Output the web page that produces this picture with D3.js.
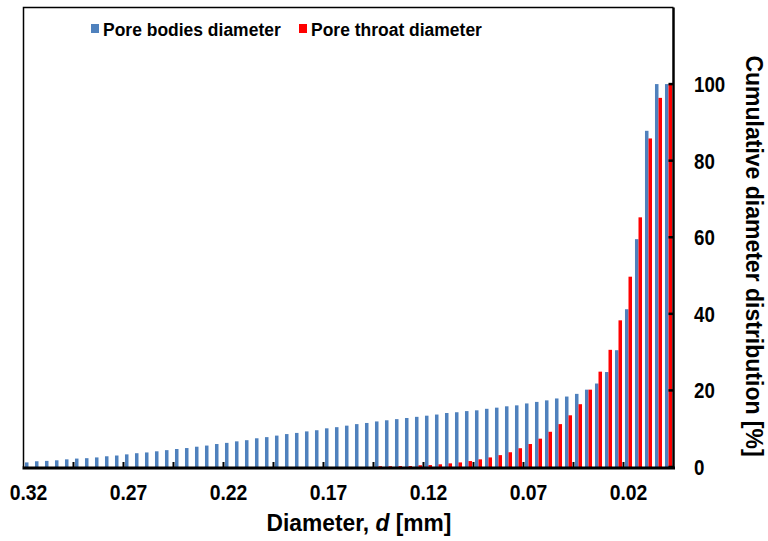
<!DOCTYPE html>
<html>
<head>
<meta charset="utf-8">
<script src="https://cdn.jsdelivr.net/npm/d3@7"></script>
<style>
  html, body { margin: 0; padding: 0; background: #fff; }
  text { font-family: "Liberation Sans", Arial, sans-serif; font-weight: bold; fill: #000; }
</style>
</head>
<body>
<svg id="chart" width="768" height="541"></svg>
<script>
const categories = ["0.320","0.315","0.310","0.305","0.300","0.295","0.290","0.285","0.280","0.275",
  "0.270","0.265","0.260","0.255","0.250","0.245","0.240","0.235","0.230","0.225",
  "0.220","0.215","0.210","0.205","0.200","0.195","0.190","0.185","0.180","0.175",
  "0.170","0.165","0.160","0.155","0.150","0.145","0.140","0.135","0.130","0.125",
  "0.120","0.115","0.110","0.105","0.100","0.095","0.090","0.085","0.080","0.075",
  "0.070","0.065","0.060","0.055","0.050","0.045","0.040","0.035","0.030","0.025",
  "0.020","0.015","0.010","0.005","0.000"];
const tickLabels = ["0.32","0.27","0.22","0.17","0.12","0.07","0.02"];
const tickCategories = ["0.320","0.270","0.220","0.170","0.120","0.070","0.020"];
const poreBodies = [1.2,1.5,1.6,1.75,2.0,2.2,2.3,2.5,2.8,3.0,
  3.3,3.6,3.8,4.1,4.4,4.7,4.95,5.3,5.6,6.0,
  6.3,6.7,7.0,7.5,7.8,8.2,8.6,8.9,9.3,9.6,
  10.1,10.4,10.8,11.2,11.5,11.9,12.2,12.5,12.8,13.1,
  13.4,13.7,14.1,14.3,14.6,14.8,15.2,15.5,15.85,16.1,
  16.6,17.0,17.4,17.9,18.4,19.1,20.2,21.8,24.8,30.5,
  41.2,59.5,87.8,100,100];
const poreThroat = [0,0,0,0,0,0,0,0,0,0,
  0,0,0,0,0,0,0,0,0,0,
  0,0,0,0,0,0,0,0,0,0,
  0,0,0,0,0,0.2,0.2,0.25,0.25,0.45,
  0.5,0.7,0.95,1.2,1.55,2.0,2.5,3.1,3.85,4.9,
  6.0,7.4,9.2,11.2,13.5,16.4,20.2,24.9,30.6,38.3,
  49.7,65.2,85.8,96.4,100];
const seriesNames = ["Pore bodies diameter","Pore throat diameter"];
const seriesColors = ["#4F81BD","#FF0000"];
const yTicks = [0,20,40,60,80,100];

const svg = d3.select("#chart");
const pL = 23.5, pR = 673.5, pT = 7.5, pB = 467;

const x = d3.scaleBand().domain(categories).range([pL, pR]).padding(0);
const x1 = d3.scaleBand().domain([0,1]).range([0, x.bandwidth()]).paddingInner(0).paddingOuter(0.42);
const y = d3.scaleLinear().domain([0,120]).range([pB, pT]);

// plot area frame (top & left)
svg.append("path")
  .attr("d", `M${pL},${pB} V${pT} H${pR}`)
  .attr("fill","none").attr("stroke","#000").attr("stroke-width",1.5);

// bars
const data = categories.map((c,i)=>({c, v:[poreBodies[i], poreThroat[i]]}));
const g = svg.append("g");
data.forEach(d=>{
  d.v.forEach((val,s)=>{
    if (val <= 0) return;
    g.append("rect")
      .attr("x", x(d.c) + x1(s))
      .attr("y", y(val))
      .attr("width", x1.bandwidth())
      .attr("height", pB - y(val))
      .attr("fill", seriesColors[s]);
  });
});

// x-axis line and inward ticks between categories every 5
svg.append("line").attr("x1",pL-1).attr("x2",pR+1.5).attr("y1",pB+1).attr("y2",pB+1)
  .attr("stroke","#000").attr("stroke-width",3);
const tickIdx = d3.range(5, categories.length, 5);
svg.append("g").selectAll("line").data(tickIdx).join("line")
  .attr("x1", i=>x(categories[i])).attr("x2", i=>x(categories[i]))
  .attr("y1", pB).attr("y2", pB-5)
  .attr("stroke","#000").attr("stroke-width",2);

// x tick labels (slightly condensed like the original)
svg.append("g").selectAll("text").data(tickCategories).join("text")
  .attr("transform", c=>`translate(${x(c)+x.bandwidth()/2},500) scale(0.88,1)`)
  .attr("text-anchor","middle")
  .attr("font-size","22px")
  .text((c,i)=>tickLabels[i]);

// right y axis
svg.append("line").attr("x1",pR).attr("x2",pR).attr("y1",pT).attr("y2",pB+2)
  .attr("stroke","#000").attr("stroke-width",2.5);
svg.append("g").selectAll("line").data(yTicks).join("line")
  .attr("x1", pR-5).attr("x2", pR)
  .attr("y1", d=>y(d)).attr("y2", d=>y(d))
  .attr("stroke","#000").attr("stroke-width",2.5);
svg.append("g").selectAll("text").data(yTicks).join("text")
  .attr("transform", d=>`translate(694,${y(d)}) scale(0.85,1)`)
  .attr("dy","0.36em")
  .attr("font-size","22px")
  .text(d=>d3.format("d")(d));

// axis titles
const xt = svg.append("text").attr("transform","translate(359,531) scale(0.95,1)")
  .attr("text-anchor","middle").attr("font-size","24px");
xt.append("tspan").text("Diameter, ");
xt.append("tspan").attr("font-style","italic").text("d");
xt.append("tspan").text(" [mm]");

svg.append("text")
  .attr("transform","translate(746,256) rotate(90)")
  .attr("text-anchor","middle").attr("font-size","23px")
  .text("Cumulative diameter distribution [%]");

// legend
const lx = [91, 299];
seriesNames.forEach((n,i)=>{
  svg.append("rect").attr("x",lx[i]).attr("y",24).attr("width",8).attr("height",9).attr("fill",seriesColors[i]);
  svg.append("text").attr("transform",`translate(${lx[i]+12},36) scale(0.92,1)`)
    .attr("font-size","19px").text(n);
});
</script>
</body>
</html>
